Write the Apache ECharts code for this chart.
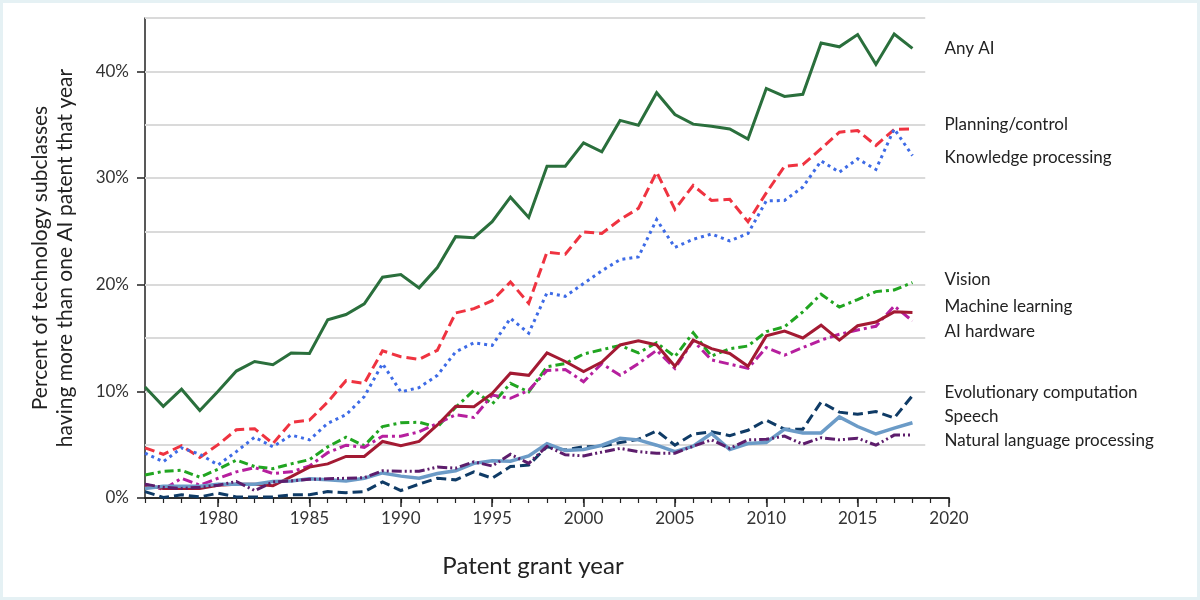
<!DOCTYPE html>
<html>
<head>
<meta charset="utf-8">
<script src="https://cdn.jsdelivr.net/npm/echarts@6.0.0/dist/echarts.min.js"></script>
<style>
  html, body { margin: 0; padding: 0; background: #fff; }
  #main {
    width: 1200px;
    height: 600px;
    box-sizing: border-box;
    border: 3px solid #e5f1f4;
    background: #fff;
  }
</style>
</head>
<body>
<div id="main"></div>
<script>
// grant years, 1976 .. 2018
const years = [
  1976, 1977, 1978, 1979, 1980, 1981, 1982, 1983, 1984, 1985,
  1986, 1987, 1988, 1989, 1990, 1991, 1992, 1993, 1994, 1995,
  1996, 1997, 1998, 1999, 2000, 2001, 2002, 2003, 2004, 2005,
  2006, 2007, 2008, 2009, 2010, 2011, 2012, 2013, 2014, 2015,
  2016, 2017, 2018,
]

// percent of subclasses with more than one AI patent
const anyAI = [
  10.4, 8.6, 10.2, 8.2, 10.0, 11.9, 12.8, 12.5, 13.6, 13.55,
  16.7, 17.2, 18.2, 20.7, 20.95, 19.7, 21.6, 24.5, 24.4, 25.9,
  28.2, 26.3, 31.1, 31.1, 33.3, 32.45, 35.4, 34.95, 38.0, 35.95,
  35.05, 34.85, 34.6, 33.65, 38.4, 37.65, 37.85, 42.65, 42.3, 43.45,
  40.65, 43.5, 42.15,
]
const planning = [
  4.7, 4.1, 4.9, 3.8, 5.0, 6.4, 6.5, 5.1, 7.1, 7.3,
  9.0, 11.0, 10.75, 13.8, 13.25, 13.0, 13.85, 17.35, 17.75, 18.5,
  20.25, 18.25, 23.05, 22.85, 24.95, 24.8, 26.1, 27.15, 30.55, 27.05,
  29.3, 27.9, 28.0, 25.9, 28.6, 31.1, 31.25, 32.75, 34.3, 34.45,
  33.05, 34.55, 34.6,
]
const knowledge = [
  4.2, 3.4, 4.7, 4.1, 3.1, 4.35, 5.7, 4.8, 5.9, 5.45,
  7.0, 7.8, 9.5, 12.6, 9.95, 10.35, 11.5, 13.7, 14.55, 14.3,
  16.85, 15.45, 19.25, 18.9, 20.1, 21.3, 22.35, 22.6, 26.1, 23.5,
  24.25, 24.75, 24.1, 24.8, 27.85, 27.9, 29.15, 31.6, 30.55, 31.8,
  30.8, 34.6, 32.1,
]
const vision = [
  2.15, 2.5, 2.6, 1.95, 2.7, 3.55, 2.95, 2.75, 3.2, 3.6,
  4.8, 5.7, 4.9, 6.7, 7.05, 7.1, 6.65, 8.5, 10.1, 8.8,
  10.75, 9.95, 12.3, 12.6, 13.5, 13.9, 14.3, 13.6, 14.55, 13.25,
  15.5, 13.3, 14.0, 14.25, 15.6, 16.05, 17.45, 19.1, 17.9, 18.6,
  19.35, 19.5, 20.2,
]
const machineLearning = [
  1.3, 0.8, 1.85, 1.2, 1.85, 2.45, 2.85, 2.3, 2.45, 3.0,
  4.25, 4.95, 4.75, 5.8, 5.8, 6.2, 7.0, 7.8, 7.55, 9.65,
  9.35, 10.1, 11.95, 12.05, 10.9, 12.6, 11.5, 12.6, 13.85, 12.15,
  14.75, 12.95, 12.55, 12.15, 14.1, 13.4, 14.1, 14.8, 15.35, 15.75,
  16.1, 18.0, 16.6,
]
const hardware = [
  1.2, 0.9, 0.9, 0.9, 1.2, 1.3, 1.3, 1.15, 2.0, 2.9,
  3.2, 3.9, 3.9, 5.3, 4.9, 5.3, 6.85, 8.6, 8.55, 9.8,
  11.7, 11.5, 13.6, 12.8, 11.85, 12.75, 14.35, 14.75, 14.35, 12.35,
  14.8, 14.0, 13.55, 12.35, 15.2, 15.65, 15.0, 16.2, 14.8, 16.15,
  16.5, 17.45, 17.4,
]
const evolutionary = [
  0.6, 0.05, 0.3, 0.1, 0.45, 0.1, 0.1, 0.1, 0.3, 0.3,
  0.6, 0.5, 0.6, 1.5, 0.7, 1.3, 1.85, 1.7, 2.45, 1.85,
  2.95, 3.1, 4.8, 4.5, 4.8, 4.85, 5.2, 5.5, 6.3, 4.95,
  6.0, 6.2, 5.85, 6.35, 7.3, 6.45, 6.45, 9.0, 8.05, 7.85,
  8.1, 7.5, 9.6,
]
const speech = [
  0.9, 1.1, 1.1, 1.1, 1.3, 1.3, 1.3, 1.55, 1.6, 1.8,
  1.7, 1.6, 1.85, 2.35, 2.05, 1.85, 2.3, 2.55, 3.25, 3.5,
  3.45, 3.95, 5.1, 4.45, 4.55, 4.95, 5.6, 5.45, 4.95, 4.35,
  4.85, 6.05, 4.55, 5.1, 5.2, 6.45, 6.1, 6.1, 7.6, 6.7,
  6.0, 6.55, 7.05,
]
const nlp = [
  1.3, 1.0, 0.9, 1.0, 1.2, 1.55, 0.7, 1.5, 1.6, 1.75,
  1.8, 1.85, 1.9, 2.55, 2.5, 2.5, 2.9, 2.8, 3.4, 3.0,
  4.1, 3.25, 4.85, 4.05, 3.95, 4.3, 4.65, 4.35, 4.2, 4.2,
  4.85, 5.45, 4.65, 5.45, 5.5, 5.8, 5.05, 5.65, 5.45, 5.6,
  4.95, 5.9, 5.9,
]

// axis ticks
const xTicks = [1980, 1985, 1990, 1995, 2000, 2005, 2010, 2015, 2020]
const yTicks = [0, 10, 20, 30, 40]
// horizontal guide lines (percent)
const gridValues = [5, 10, 15, 20, 25, 30, 35, 40, 45]

const FONT = 'Lato'
const GRID_END = 2018.7 // guide lines stop short of the axis end

// name, data, color, dash, label nudge (px)
const lines = [
  { name: 'Any AI', data: anyAI, color: '#2a6f3c', type: 'solid', dy: 0 },
  { name: 'Planning/control', data: planning, color: '#ef3340', type: [10, 5], dy: -4 },
  { name: 'Knowledge processing', data: knowledge, color: '#3e6be6', type: [3, 4], dy: 2 },
  { name: 'Vision', data: vision, color: '#21a521', type: [9, 4, 3, 4], dy: -3 },
  { name: 'Machine learning', data: machineLearning, color: '#b61f9e', type: [10, 4, 3, 4], dy: -14 },
  { name: 'AI hardware', data: hardware, color: '#a31a33', type: 'solid', dy: 19 },
  { name: 'Evolutionary computation', data: evolutionary, color: '#0f3b66', type: [10, 5], dy: -3 },
  { name: 'Speech', data: speech, color: '#6b9bc7', type: 'solid', dy: -6 },
  { name: 'Natural language processing', data: nlp, color: '#5d1d6c', type: [10, 3, 2, 3, 2, 3], dy: 5 },
]

const chart = echarts.init(document.getElementById('main'))

const series = lines.map((l) => ({
  name: l.name,
  type: 'line',
  xAxisIndex: 0,
  data: years.map((y, i) => [y, l.data[i]]),
  symbol: 'none',
  z: 3,
  lineStyle: {
    color: l.color,
    width: l.name === 'Speech' ? 3.5 : 3,
    type: l.type,
    cap: 'butt',
    join: 'miter',
  },
  endLabel: {
    show: true,
    formatter: l.name,
    distance: 32,
    offset: [0, l.dy],
    color: '#222',
    fontFamily: FONT,
    fontSize: 17,
  },
  emphasis: { disabled: true },
}))

// guide lines, drawn under the data
series.unshift({
  type: 'line',
  xAxisIndex: 0,
  data: [],
  silent: true,
  z: 1,
  markLine: {
    silent: true,
    symbol: 'none',
    z: 1,
    label: { show: false },
    lineStyle: { color: '#dadada', width: 2, type: 'solid' },
    data: gridValues.map((v) => [{ coord: [1976, v] }, { coord: [GRID_END, v] }]),
  },
})

const axisColor = '#222'

chart.setOption({
  animation: false,
  backgroundColor: '#fff',
  textStyle: { fontFamily: FONT },
  grid: {
    left: 142,
    right: 248,
    top: 15,
    bottom: 99,
  },
  xAxis: [
    {
      // yearly ticks
      type: 'value',
      position: 'bottom',
      min: 1976,
      max: 2020,
      interval: 1,
      axisLine: { lineStyle: { color: axisColor, width: 1.5 } },
      axisTick: { length: 5, lineStyle: { color: axisColor, width: 1.2 } },
      axisLabel: { show: false },
      splitLine: { show: false },
    },
    {
      // 5-year ticks + labels
      type: 'value',
      position: 'bottom',
      offset: 0,
      min: 1976,
      max: 2020,
      name: 'Patent grant year',
      nameLocation: 'middle',
      nameGap: 56,
      nameTextStyle: { fontSize: 24, color: '#222', fontFamily: FONT, padding: [0, 28, 0, 0] },
      axisLine: { lineStyle: { color: axisColor, width: 1.5 } },
      axisTick: { length: 9, customValues: xTicks, lineStyle: { color: axisColor, width: 1.5 } },
      axisLabel: {
        customValues: xTicks,
        margin: 12,
        fontSize: 17,
        color: '#333',
        fontFamily: FONT,
        formatter: (v) => String(v),
      },
      splitLine: { show: false },
    },
  ],
  yAxis: {
    type: 'value',
    min: 0,
    max: 45,
    interval: 5,
    name: 'Percent of technology subclasses\nhaving more than one AI patent that year',
    nameLocation: 'middle',
    nameRotate: 90,
    nameGap: 67,
    nameTextStyle: { fontSize: 21, lineHeight: 25, color: '#222', fontFamily: FONT },
    axisLine: { show: true, lineStyle: { color: axisColor, width: 1.5 } },
    axisTick: { show: true, length: 8, customValues: yTicks, lineStyle: { color: axisColor, width: 1.5 } },
    axisLabel: {
      customValues: yTicks,
      margin: 16,
      fontSize: 17,
      color: '#333',
      fontFamily: FONT,
      formatter: (v) => v + '%',
    },
    splitLine: { show: false },
  },
  series,
})
</script>
</body>
</html>
